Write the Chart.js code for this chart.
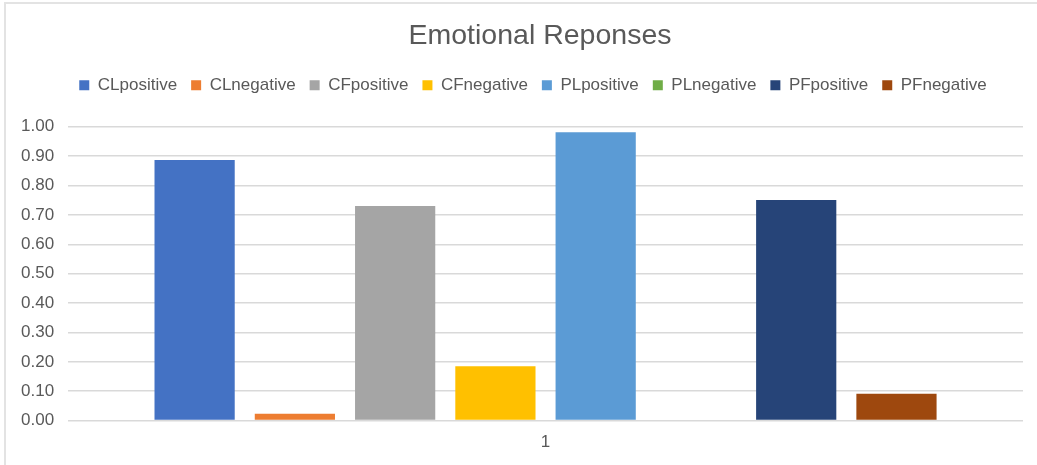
<!DOCTYPE html>
<html>
<head>
<meta charset="utf-8">
<title>Emotional Reponses</title>
<script src="https://cdn.jsdelivr.net/npm/chart.js@4/dist/chart.umd.min.js"></script>
<style>
    html, body { margin: 0; padding: 0; background: #fff; overflow: hidden; }
    #wrap { position: relative; width: 1037px; height: 465px; }
    #frame {
        position: absolute; left: 4px; top: 2px; right: -4px; bottom: -4px;
        border-left: 2px solid #e3e3e3; border-top: 2px solid #e3e3e3;
    }
    #emotionChart { position: absolute; left: 0; top: 0; }
</style>
</head>
<body>
<div id="wrap">
    <div id="frame"></div>
    <canvas id="emotionChart" width="1037" height="465"></canvas>
</div>
<script>
// data
const categories = ["1"];
const seriesNames = ["CLpositive", "CLnegative", "CFpositive", "CFnegative",
                     "PLpositive", "PLnegative", "PFpositive", "PFnegative"];
const seriesValues = [
    [0.887],  // CLpositive
    [0.023],  // CLnegative
    [0.730],  // CFpositive
    [0.185],  // CFnegative
    [0.981],  // PLpositive
    [0],      // PLnegative
    [0.751],  // PFpositive
    [0.091]   // PFnegative
];
const seriesColors = ["#4472C4", "#ED7D31", "#A5A5A5", "#FFC000",
                      "#5B9BD5", "#70AD47", "#264478", "#9E480E"];

const textGray = "#595959";
const fontFamily = "'Liberation Sans', Arial, Helvetica, sans-serif";

// more room under the legend, and title/legend nudged right
// (the original chart frame is wider than the screenshot)
const headerTweaks = {
    id: "headerTweaks",
    beforeInit(chart) {
        const origFit = chart.legend.fit;
        chart.legend.fit = function () {
            origFit.bind(chart.legend)();
            this.height += 23;
        };
    },
    afterLayout(chart) {
        chart.titleBlock.left += 25;
        chart.titleBlock.right += 25;
        chart.legend.left += 18;
        chart.legend.right += 18;
    }
};

new Chart(document.getElementById("emotionChart").getContext("2d"), {
    type: "bar",
    data: {
        labels: categories,
        datasets: seriesNames.map((name, i) => ({
            label: name,
            data: seriesValues[i],
            backgroundColor: seriesColors[i],
            borderWidth: 0,
            categoryPercentage: 0.84,
            barPercentage: 0.8
        }))
    },
    options: {
        responsive: false,
        animation: false,
        layout: {
            padding: { left: 7, right: 14, top: 0, bottom: 8 }
        },
        plugins: {
            title: {
                display: true,
                text: "Emotional Reponses",
                color: textGray,
                font: { family: fontFamily, size: 28.5, weight: "normal" },
                padding: { top: 19, bottom: 9.5 }
            },
            legend: {
                position: "top",
                labels: {
                    color: textGray,
                    font: { family: fontFamily, size: 17 },
                    boxWidth: 10,
                    boxHeight: 10,
                    padding: 14
                }
            },
            tooltip: { enabled: false }
        },
        scales: {
            x: {
                grid: { display: false },
                border: { display: false },
                ticks: {
                    color: textGray,
                    font: { family: fontFamily, size: 17 },
                    padding: 4
                }
            },
            y: {
                min: 0,
                max: 1,
                grid: { color: "#d9d9d9", lineWidth: 1.5, drawTicks: false },
                border: { display: false },
                ticks: {
                    stepSize: 0.1,
                    color: textGray,
                    font: { family: fontFamily, size: 17 },
                    padding: 14,
                    callback: v => v.toFixed(2)
                }
            }
        }
    },
    plugins: [headerTweaks]
});
</script>
</body>
</html>
